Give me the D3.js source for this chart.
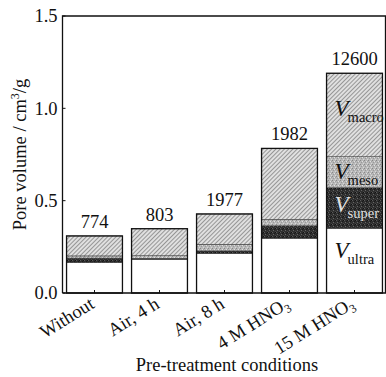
<!DOCTYPE html>
<html>
<head>
<meta charset="utf-8">
<script src="https://cdn.jsdelivr.net/npm/d3@7"></script>
<style>
  html, body { margin: 0; padding: 0; background: #fff; }
  svg { display: block; font-family: "Liberation Serif", "DejaVu Serif", serif; }
</style>
</head>
<body>
<svg id="chart" width="386" height="377"></svg>
<script>
// Pre-treatment conditions (x categories); HNO3 written with a subscript 3
const categories = ["Without", "Air, 4 h", "Air, 8 h", "4 M HNO3", "15 M HNO3"];
// Pore volume components, cm3/g
const ultra = [0.165, 0.182, 0.214, 0.296, 0.350];
const superV = [0.024, 0.006, 0.014, 0.068, 0.220];
const meso = [0.012, 0.014, 0.036, 0.035, 0.168];
const macro = [0.108, 0.146, 0.164, 0.384, 0.452];
// Numbers printed above each bar
const topLabels = ["774", "803", "1977", "1982", "12600"];
const yTicks = [0.0, 0.5, 1.0, 1.5];
const seriesKeys = ["ultra", "super", "meso", "macro"];

const rows = categories.map((c, i) => ({
  cat: c, ultra: ultra[i], super: superV[i], meso: meso[i], macro: macro[i]
}));

const svg = d3.select("#chart");
const pLeft = 62.5, pRight = 385.5, pTop = 16, pBottom = 293;
const fs = 18.5;

const x = d3.scaleBand().domain(categories).range([62, 387])
  .paddingInner(0.14).paddingOuter(0.07);
const y = d3.scaleLinear().domain([0, 1.5]).range([pBottom, pTop]);

// ----- fill patterns -----
const defs = svg.append("defs");

// diagonal hatching for macropores
const hatch = defs.append("pattern").attr("id", "pMacro")
  .attr("patternUnits", "userSpaceOnUse").attr("width", 3).attr("height", 3)
  .attr("patternTransform", "rotate(45)");
hatch.append("rect").attr("width", 3).attr("height", 3).attr("fill", "#e0e0e0");
hatch.append("line").attr("x1", 0).attr("y1", 0).attr("x2", 0).attr("y2", 3)
  .attr("stroke", "#585858").attr("stroke-width", 1.1);

// light stipple for mesopores
const pm = defs.append("pattern").attr("id", "pMeso")
  .attr("patternUnits", "userSpaceOnUse").attr("width", 4).attr("height", 4);
pm.append("rect").attr("width", 4).attr("height", 4).attr("fill", "#b8b8b8");
[[0, 0, "#888"], [2, 1, "#e0e0e0"], [1, 2, "#999"], [3, 3, "#d8d8d8"], [3, 1, "#a0a0a0"]]
  .forEach(([a, b, c]) => pm.append("rect").attr("x", a).attr("y", b)
    .attr("width", 1).attr("height", 1).attr("fill", c));

// dark stipple for supermicropores
const ps = defs.append("pattern").attr("id", "pSuper")
  .attr("patternUnits", "userSpaceOnUse").attr("width", 4).attr("height", 4);
ps.append("rect").attr("width", 4).attr("height", 4).attr("fill", "#2e2e2e");
[[0, 0, "#5a5a5a"], [2, 1, "#1a1a1a"], [1, 2, "#666"], [3, 3, "#444"], [3, 0, "#111"]]
  .forEach(([a, b, c]) => ps.append("rect").attr("x", a).attr("y", b)
    .attr("width", 1).attr("height", 1).attr("fill", c));

const fills = { ultra: "#ffffff", super: "url(#pSuper)", meso: "url(#pMeso)", macro: "url(#pMacro)" };

// ----- stacked bars -----
const stacked = d3.stack().keys(seriesKeys)(rows);

svg.append("g").selectAll("g").data(stacked).join("g")
  .attr("fill", d => fills[d.key])
  .selectAll("rect").data(d => d).join("rect")
  .attr("x", d => x(d.data.cat))
  .attr("width", x.bandwidth())
  .attr("y", d => y(d[1]))
  .attr("height", d => y(d[0]) - y(d[1]))
  .attr("stroke", "#333").attr("stroke-width", 0.5);

const total = d => d.ultra + d.super + d.meso + d.macro;

// bar outlines
svg.append("g").selectAll("rect").data(rows).join("rect")
  .attr("x", d => x(d.cat))
  .attr("width", x.bandwidth())
  .attr("y", d => y(total(d)))
  .attr("height", d => pBottom - y(total(d)))
  .attr("fill", "none").attr("stroke", "#111").attr("stroke-width", 1.3);

// values above bars
svg.append("g").selectAll("text").data(rows).join("text")
  .attr("x", d => x(d.cat) + x.bandwidth() / 2)
  .attr("y", d => y(total(d)) - 8)
  .attr("text-anchor", "middle").attr("font-size", fs).attr("fill", "#111")
  .text((d, i) => topLabels[i]);

// ----- frame and axes -----
svg.append("path")
  .attr("d", `M${pLeft},${pBottom}V${pTop}H${pRight}V${pBottom}H${pLeft}`)
  .attr("fill", "none").attr("stroke", "#111").attr("stroke-width", 1.3);

// y ticks (inward) and labels
const yAxis = svg.append("g");
yAxis.selectAll("line").data(yTicks).join("line")
  .attr("x1", pLeft).attr("x2", pLeft + 3)
  .attr("y1", d => y(d)).attr("y2", d => y(d))
  .attr("stroke", "#111").attr("stroke-width", 1);
yAxis.selectAll("text").data(yTicks).join("text")
  .attr("x", pLeft - 5).attr("y", d => y(d)).attr("dy", "0.35em")
  .attr("text-anchor", "end").attr("font-size", fs).attr("fill", "#111")
  .text(d => d3.format(".1f")(d));

// x ticks (inward) at bar centres
svg.append("g").selectAll("line").data(categories).join("line")
  .attr("x1", d => x(d) + x.bandwidth() / 2).attr("x2", d => x(d) + x.bandwidth() / 2)
  .attr("y1", pBottom).attr("y2", pBottom - 3)
  .attr("stroke", "#111").attr("stroke-width", 1);

// rotated category labels
const xl = svg.append("g").selectAll("text").data(categories).join("text")
  .attr("transform", d => `translate(${x(d) + x.bandwidth() / 2 + 1},${pBottom + 14}) rotate(-32)`)
  .attr("text-anchor", "end").attr("font-size", fs).attr("fill", "#111");
xl.each(function (d) {
  const t = d3.select(this);
  if (d.endsWith("HNO3")) {
    t.append("tspan").text(d.slice(0, -1));
    t.append("tspan").attr("font-size", 12).attr("dy", 4).text("3");
  } else {
    t.text(d);
  }
});

// axis titles
svg.append("text")
  .attr("x", 227).attr("y", 371)
  .attr("text-anchor", "middle").attr("font-size", fs).attr("fill", "#111")
  .text("Pre-treatment conditions");

const yt = svg.append("text")
  .attr("transform", `translate(26,${(pTop + pBottom) / 2}) rotate(-90)`)
  .attr("text-anchor", "middle").attr("font-size", fs).attr("fill", "#111");
yt.append("tspan").text("Pore volume / cm");
yt.append("tspan").attr("font-size", 12).attr("dy", -7).text("3");
yt.append("tspan").attr("dy", 7).text("/g");

// ----- component labels inside the last bar -----
const last = rows[rows.length - 1];
const lastStack = stacked.map(s => ({ key: s.key, lo: s[s.length - 1][0], hi: s[s.length - 1][1] }));
const lx = x(last.cat) + 8;
const labelColor = { ultra: "#111", super: "#e0e0e0", meso: "#111", macro: "#111" };
const labelShift = { ultra: -2.5, super: 4, meso: 7, macro: 1 };
const g5 = svg.append("g");
lastStack.forEach(s => {
  const cy = (y(s.lo) + y(s.hi)) / 2;
  const t = g5.append("text").attr("x", lx).attr("y", cy + labelShift[s.key])
    .attr("fill", labelColor[s.key]);
  t.append("tspan").attr("font-style", "italic").attr("font-size", 23).text("V");
  t.append("tspan").attr("font-size", 14.5).attr("dy", 6).attr("dx", -1).text(s.key);
});
</script>
</body>
</html>
